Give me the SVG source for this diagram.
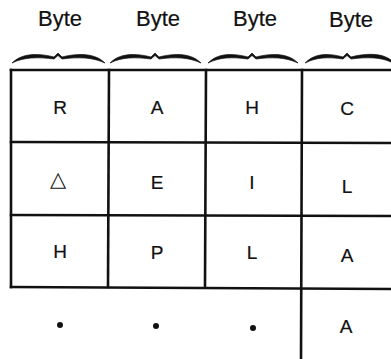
<svg xmlns="http://www.w3.org/2000/svg" width="391" height="359" viewBox="0 0 391 359">
<style>
.hdr{font-family:"Liberation Sans",Arial,sans-serif;font-size:22px;fill:#111;text-anchor:middle;stroke:#111;stroke-width:0.2}
.t{font-family:"Liberation Sans",Arial,sans-serif;font-size:19px;fill:#111;text-anchor:middle;stroke:#111;stroke-width:0.2}
.sym{font-family:"DejaVu Sans",sans-serif;font-size:21px;fill:#111;text-anchor:middle}
.ln{stroke:#111;stroke-width:2.6;fill:none;stroke-linecap:square}
.br{fill:#111;stroke:#111;stroke-width:0.7;stroke-linejoin:round}
.dot{fill:#111}
</style>
<rect width="391" height="359" fill="#fff"/>
<g id="headers">
<text class="hdr" x="60" y="26">Byte</text>
<text class="hdr" x="158" y="26">Byte</text>
<text class="hdr" x="255" y="26">Byte</text>
<text class="hdr" x="351" y="27">Byte</text>
</g>
<g id="braces">
<path class="br" d="M12,63 C22,53 38,53 54,57 L58,53 L62,57 C78,53 95,53 105,63 C92,57 78,57 62,59 L58,55.5 L54,59 C38,57 24,57 12,63 Z"/>
<path class="br" d="M110,63 C120,53 135,53 151,57 L155,53 L159,57 C175,53 191,53 201,63 C188,57 175,57 159,59 L155,55.5 L151,59 C135,57 122,57 110,63 Z"/>
<path class="br" d="M208,63 C218,53 232,53 248,57 L252,53 L256,57 C272,53 288,53 298,63 C285,57 272,57 256,59 L252,55.5 L248,59 C232,57 220,57 208,63 Z"/>
<path class="br" d="M305,63 C315,53 328,53 343,57 L347,53 L351,57 C366,53 382,53 391,60 L391,62 C380,57 367,57 351,59 L347,55.5 L343,59 C328,57 317,57 305,63 Z"/>
</g>
<g id="connectors">
<line class="ln" x1="11" y1="70" x2="392" y2="70"/>
<line class="ln" x1="11" y1="142" x2="392" y2="143"/>
<line class="ln" x1="11" y1="215" x2="392" y2="216"/>
<line class="ln" x1="11" y1="287" x2="392" y2="289"/>
<line class="ln" x1="11" y1="70" x2="11" y2="287"/>
<line class="ln" x1="109" y1="70" x2="108" y2="287"/>
<line class="ln" x1="206" y1="70" x2="205" y2="287"/>
<line class="ln" x1="302" y1="70" x2="301" y2="360"/>
</g>
<g id="cell-r1c1"><text class="t" x="60" y="114">R</text></g>
<g id="cell-r1c2"><text class="t" x="157" y="114">A</text></g>
<g id="cell-r1c3"><text class="t" x="252" y="114">H</text></g>
<g id="cell-r1c4"><text class="t" x="347" y="115">C</text></g>
<g id="cell-r2c1"><text class="sym" x="58" y="186">△</text></g>
<g id="cell-r2c2"><text class="t" x="157" y="189">E</text></g>
<g id="cell-r2c3"><text class="t" x="252" y="189">I</text></g>
<g id="cell-r2c4"><text class="t" x="347" y="193">L</text></g>
<g id="cell-r3c1"><text class="t" x="60" y="258">H</text></g>
<g id="cell-r3c2"><text class="t" x="157" y="259">P</text></g>
<g id="cell-r3c3"><text class="t" x="252" y="259">L</text></g>
<g id="cell-r3c4"><text class="t" x="347" y="262">A</text></g>
<g id="cell-r4c1"><circle class="dot" cx="60" cy="325" r="3"/></g>
<g id="cell-r4c2"><circle class="dot" cx="156" cy="326" r="3"/></g>
<g id="cell-r4c3"><circle class="dot" cx="253" cy="328" r="3"/></g>
<g id="cell-r4c4"><text class="t" x="346" y="333">A</text></g>
</svg>
